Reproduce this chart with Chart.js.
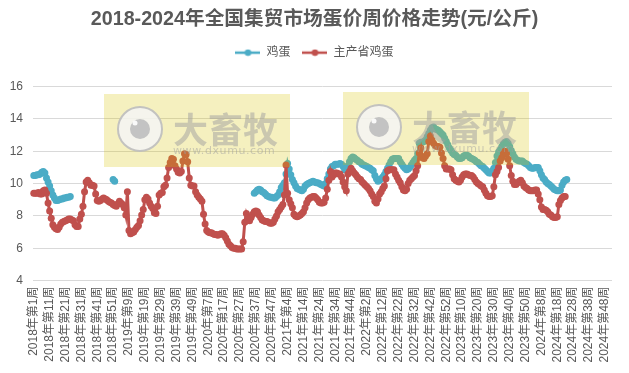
<!DOCTYPE html>
<html>
<head>
<meta charset="utf-8">
<style>
  html, body { margin: 0; padding: 0; background: #fff; }
  canvas { display: block; }
</style>
<script src="https://cdn.jsdelivr.net/npm/chart.js@4"></script>
</head>
<body>
<canvas id="eggChart" width="629" height="373"></canvas>
<script>
const years = [2018, 2019, 2020, 2021, 2022, 2023, 2024];
const weeksInYear = [52, 52, 53, 52, 52, 52, 52];
const yTicks = [4, 6, 8, 10, 12, 14, 16];
const labelEvery = 10;

const categories = [];
years.forEach((y, k) => {
  for (let w = 1; w <= weeksInYear[k]; w++) categories.push(y + '年第' + w + '周');
});

const mainProvince = [
  9.4,9.4,9.4,9.45,9.35,9.35,9.55,9.6,9.4,8.8,8.3,7.85,7.45,7.3,7.2,7.15,7.3,7.5,7.6,7.65,7.7,7.75,7.8,7.8,7.75,7.7,7.45,7.35,7.35,7.8,
  8.1,8.6,9.5,10.1,10.2,10.05,9.9,9.9,9.85,9.35,8.95,8.9,8.95,9.05,9.1,9.05,9.0,8.9,8.85,8.8,8.7,8.65,
  8.6,8.75,8.9,8.8,8.7,8.5,8.05,9.5,7.1,6.9,6.95,7.0,7.15,7.3,7.4,7.7,8.05,8.4,9.0,9.15,9.05,8.8,8.6,8.45,8.2,8.15,8.6,9.3,9.4,9.45,
  9.8,9.9,10.35,11.0,11.3,11.55,11.5,11.1,10.9,10.7,10.65,10.75,11.4,11.85,11.8,11.35,10.35,9.9,9.85,9.85,9.5,9.3,
  9.15,9.05,8.9,8.1,7.5,7.1,7.0,6.95,6.95,6.9,6.85,6.85,6.8,6.85,6.9,6.9,6.8,6.65,6.45,6.25,6.15,6.05,6.0,6.0,5.95,5.95,5.95,5.95,
  6.4,7.6,8.15,7.9,7.7,7.9,8.1,8.25,8.3,8.25,8.05,7.9,7.75,7.7,7.65,7.65,7.6,7.55,7.55,7.6,7.8,8.0,8.25,8.4,8.55,
  8.7,9.3,11.15,9.4,9.0,8.75,8.5,8.1,8.0,7.95,8.0,8.05,8.15,8.25,8.5,8.8,9.0,9.1,9.15,9.2,9.2,9.1,9.0,8.85,8.8,8.8,8.85,9.1,9.65,
  10.2,10.75,10.4,10.55,10.65,10.65,10.6,10.6,10.4,10.1,9.8,9.55,10.6,10.75,10.95,10.8,10.65,10.55,10.4,10.3,10.25,10.1,10.0,9.9,9.8,9.7,
  9.55,9.35,9.2,8.9,8.8,9.05,9.35,9.5,9.7,9.85,10.3,10.8,10.85,10.85,10.85,10.85,10.6,10.4,10.2,10.05,9.8,9.6,9.55,9.65,10.0,10.2,
  10.3,10.4,10.5,10.8,11.1,11.9,12.2,11.6,11.55,11.7,11.85,12.6,12.95,12.7,12.5,12.35,12.3,12.3,12.25,11.9,11.55,11.1,10.9,10.9,10.9,10.85,
  10.55,10.3,10.2,10.15,10.1,10.2,10.4,10.55,10.6,10.6,10.55,10.5,10.5,10.4,10.25,10.1,10.0,9.95,9.85,9.8,9.6,9.4,9.25,9.2,9.2,9.25,
  9.8,10.55,10.75,11.0,11.4,11.6,11.85,12.0,11.85,11.5,11.1,10.5,10.15,9.95,9.95,10.05,10.15,10.2,10.05,9.85,9.75,9.7,9.6,9.55,9.55,9.55,
  9.6,9.6,9.35,9.0,8.55,8.4,8.4,8.35,8.25,8.1,8.05,7.95,7.9,7.9,7.95,8.7,8.95,9.1,9.2,9.2
];

// 鸡蛋 has holes in the record, kept as runs between gaps
const eggEarly = [10.5,10.5,10.55,10.55,10.6,10.7,10.75,10.65,10.35,10.1,9.85,9.55,9.3,9.1,8.95,8.95,9.0,9.05,9.05,9.1,9.1,9.15,9.15,9.2];
const eggShort = [10.25,10.15];
const eggLate = [
  9.4,9.5,9.6,9.65,9.6,9.5,9.45,9.35,9.25,9.2,9.15,9.15,9.1,9.1,9.2,9.3,9.5,9.75,9.9,10.05,10.6,11.25,10.9,10.55,10.25,10.05,9.85,9.7,9.65,9.6,
  9.55,9.65,9.85,9.95,10.0,10.05,10.1,10.15,10.1,10.05,10.05,10.0,9.95,9.9,9.85,10.0,10.3,10.6,10.9,11.05,11.1,11.2,11.2,11.2,11.25,11.2,
  11.05,10.85,10.95,11.1,11.35,11.55,11.65,11.6,11.5,11.45,11.35,11.3,11.2,11.15,11.1,11.05,11.0,10.95,10.85,10.8,10.5,10.3,10.15,10.2,
  10.3,10.4,10.55,10.75,10.95,11.15,11.35,11.5,11.55,11.55,11.55,11.55,11.35,11.2,11.05,10.95,10.85,10.9,11.0,11.15,11.3,11.45,11.55,11.85,
  12.5,12.55,12.55,12.6,12.7,12.9,13.1,13.3,13.45,13.5,13.4,13.35,13.3,13.2,13.1,13.0,12.8,12.6,12.4,12.2,12.05,11.9,11.8,11.75,11.65,11.55,
  11.55,11.6,11.7,11.75,11.75,11.7,11.6,11.55,11.5,11.45,11.35,11.3,11.2,11.1,11.05,10.95,10.85,10.75,10.65,10.65,10.8,10.95,11.3,11.7,
  11.95,12.1,12.3,12.45,12.55,12.6,12.5,12.3,12.05,11.85,11.65,11.5,11.45,11.4,11.4,11.4,11.3,11.25,11.2,11.1,11.0,10.95,10.95,11.0,11.0,11.0,
  10.8,10.55,10.35,10.25,10.1,10.0,9.95,9.85,9.75,9.65,9.6,9.55,9.55,9.6,9.9,10.1,10.2,10.25
];
const gap = n => Array(n).fill(null);
const egg = [...eggEarly, ...gap(26), ...eggShort, ...gap(87), ...eggLate];

const TITLE = '2018-2024年全国集贸市场蛋价周价格走势(元/公斤)';
const BLUE = '#4bacc6';
const RED = '#c0504d';
const TEXT = '#595959';
const CJK = '"Liberation Sans", "Noto Sans CJK SC", sans-serif';

function legendIcon(color) {
  const c = document.createElement('canvas');
  c.width = 25; c.height = 8;
  const g = c.getContext('2d');
  g.strokeStyle = color; g.fillStyle = color; g.lineWidth = 2.5;
  g.beginPath(); g.moveTo(0, 4); g.lineTo(25, 4); g.stroke();
  g.beginPath(); g.arc(12.5, 4, 3.3, 0, Math.PI * 2); g.fill();
  return c;
}
const icons = [legendIcon(BLUE), legendIcon(RED)];

// the yellow logo stamps that lie over the plot
function stamp(ctx, x, y) {
  ctx.save();
  ctx.fillStyle = 'rgba(215,195,0,0.25)';
  ctx.fillRect(x, y, 186, 73);
  ctx.fillStyle = 'rgba(245,245,245,0.85)';
  ctx.strokeStyle = 'rgba(190,190,190,0.9)';
  ctx.lineWidth = 2;
  ctx.beginPath(); ctx.arc(x + 36, y + 35, 22, 0, Math.PI * 2); ctx.fill(); ctx.stroke();
  ctx.fillStyle = 'rgba(190,190,190,0.9)';
  ctx.beginPath(); ctx.arc(x + 36, y + 35, 10, 0, Math.PI * 2); ctx.fill();
  ctx.fillStyle = 'rgba(255,255,255,0.9)';
  ctx.beginPath(); ctx.arc(x + 31, y + 29, 2.5, 0, Math.PI * 2); ctx.fill();
  ctx.fillStyle = 'rgba(160,160,160,0.5)';
  ctx.textBaseline = 'alphabetic';
  ctx.font = 'bold 35px "Noto Sans CJK SC"';
  ctx.fillText('大畜牧', x + 69, y + 49);
  ctx.font = '11px "DejaVu Sans"';
  ctx.letterSpacing = '0.6px';
  ctx.fillText('www.dxumu.com', x + 69, y + 60);
  ctx.restore();
}

const stampPlugin = {
  id: 'stamps',
  beforeInit(chart) {
    // extra room under the legend
    const fit = chart.legend.fit;
    chart.legend.fit = function () {
      fit.call(chart.legend);
      this.height += 18;
    };
  },
  afterDatasetsDraw(chart) {
    stamp(chart.ctx, 104, 94);
    stamp(chart.ctx, 343, 92);
  }
};

new Chart(document.getElementById('eggChart').getContext('2d'), {
  type: 'line',
  data: {
    labels: categories,
    datasets: [
      {
        label: '鸡蛋', data: egg, order: 2,
        borderColor: BLUE, backgroundColor: BLUE, borderWidth: 3,
        pointRadius: 3.5, pointBackgroundColor: BLUE, pointBorderWidth: 0,
        spanGaps: false, tension: 0
      },
      {
        label: '主产省鸡蛋', data: mainProvince, order: 1,
        borderColor: RED, backgroundColor: RED, borderWidth: 3,
        pointRadius: 3.5, pointBackgroundColor: RED, pointBorderWidth: 0,
        tension: 0
      }
    ]
  },
  options: {
    responsive: false,
    animation: false,
    layout: { padding: { top: 0, right: 0, bottom: 0, left: 0 } },
    plugins: {
      tooltip: { enabled: false },
      title: {
        display: true, text: TITLE, color: TEXT,
        font: { family: CJK, size: 19.7, weight: 'bold' },
        padding: { top: 8, bottom: 3 }
      },
      legend: {
        display: true, position: 'top',
        labels: {
          usePointStyle: true, pointStyleWidth: 25, boxHeight: 12,
          color: TEXT, font: { family: CJK, size: 12 }, padding: 12,
          generateLabels(chart) {
            return chart.data.datasets.map((d, i) => ({
              text: d.label, fontColor: TEXT, datasetIndex: i,
              pointStyle: icons[i], lineWidth: 0, hidden: false
            }));
          }
        }
      }
    },
    scales: {
      x: {
        offset: true,
        afterFit(scale) { scale.height = 92.5; },
        grid: { display: false },
        border: { display: false },
        ticks: {
          autoSkip: false, minRotation: 90, maxRotation: 90, padding: -2,
          color: TEXT, font: { family: CJK, size: 12 },
          callback(v, i) { return i % labelEvery === 0 ? this.getLabelForValue(v) : ''; }
        }
      },
      y: {
        min: yTicks[0], max: yTicks[yTicks.length - 1],
        afterFit(scale) { scale.width = 33; },
        afterBuildTicks(scale) { scale.ticks = yTicks.map(v => ({ value: v })); },
        grid: { color: '#d9d9d9', lineWidth: 1, drawTicks: false },
        border: { display: false },
        ticks: { color: TEXT, padding: 10, font: { family: CJK, size: 12 } }
      },
      // empty strip on the right so the title stays centred on the page
      rightGap: {
        axis: 'y', position: 'right', display: true,
        afterFit(scale) { scale.width = 17; },
        grid: { display: false }, border: { display: false }, ticks: { display: false }
      }
    }
  },
  plugins: [stampPlugin]
});
</script>
</body>
</html>
